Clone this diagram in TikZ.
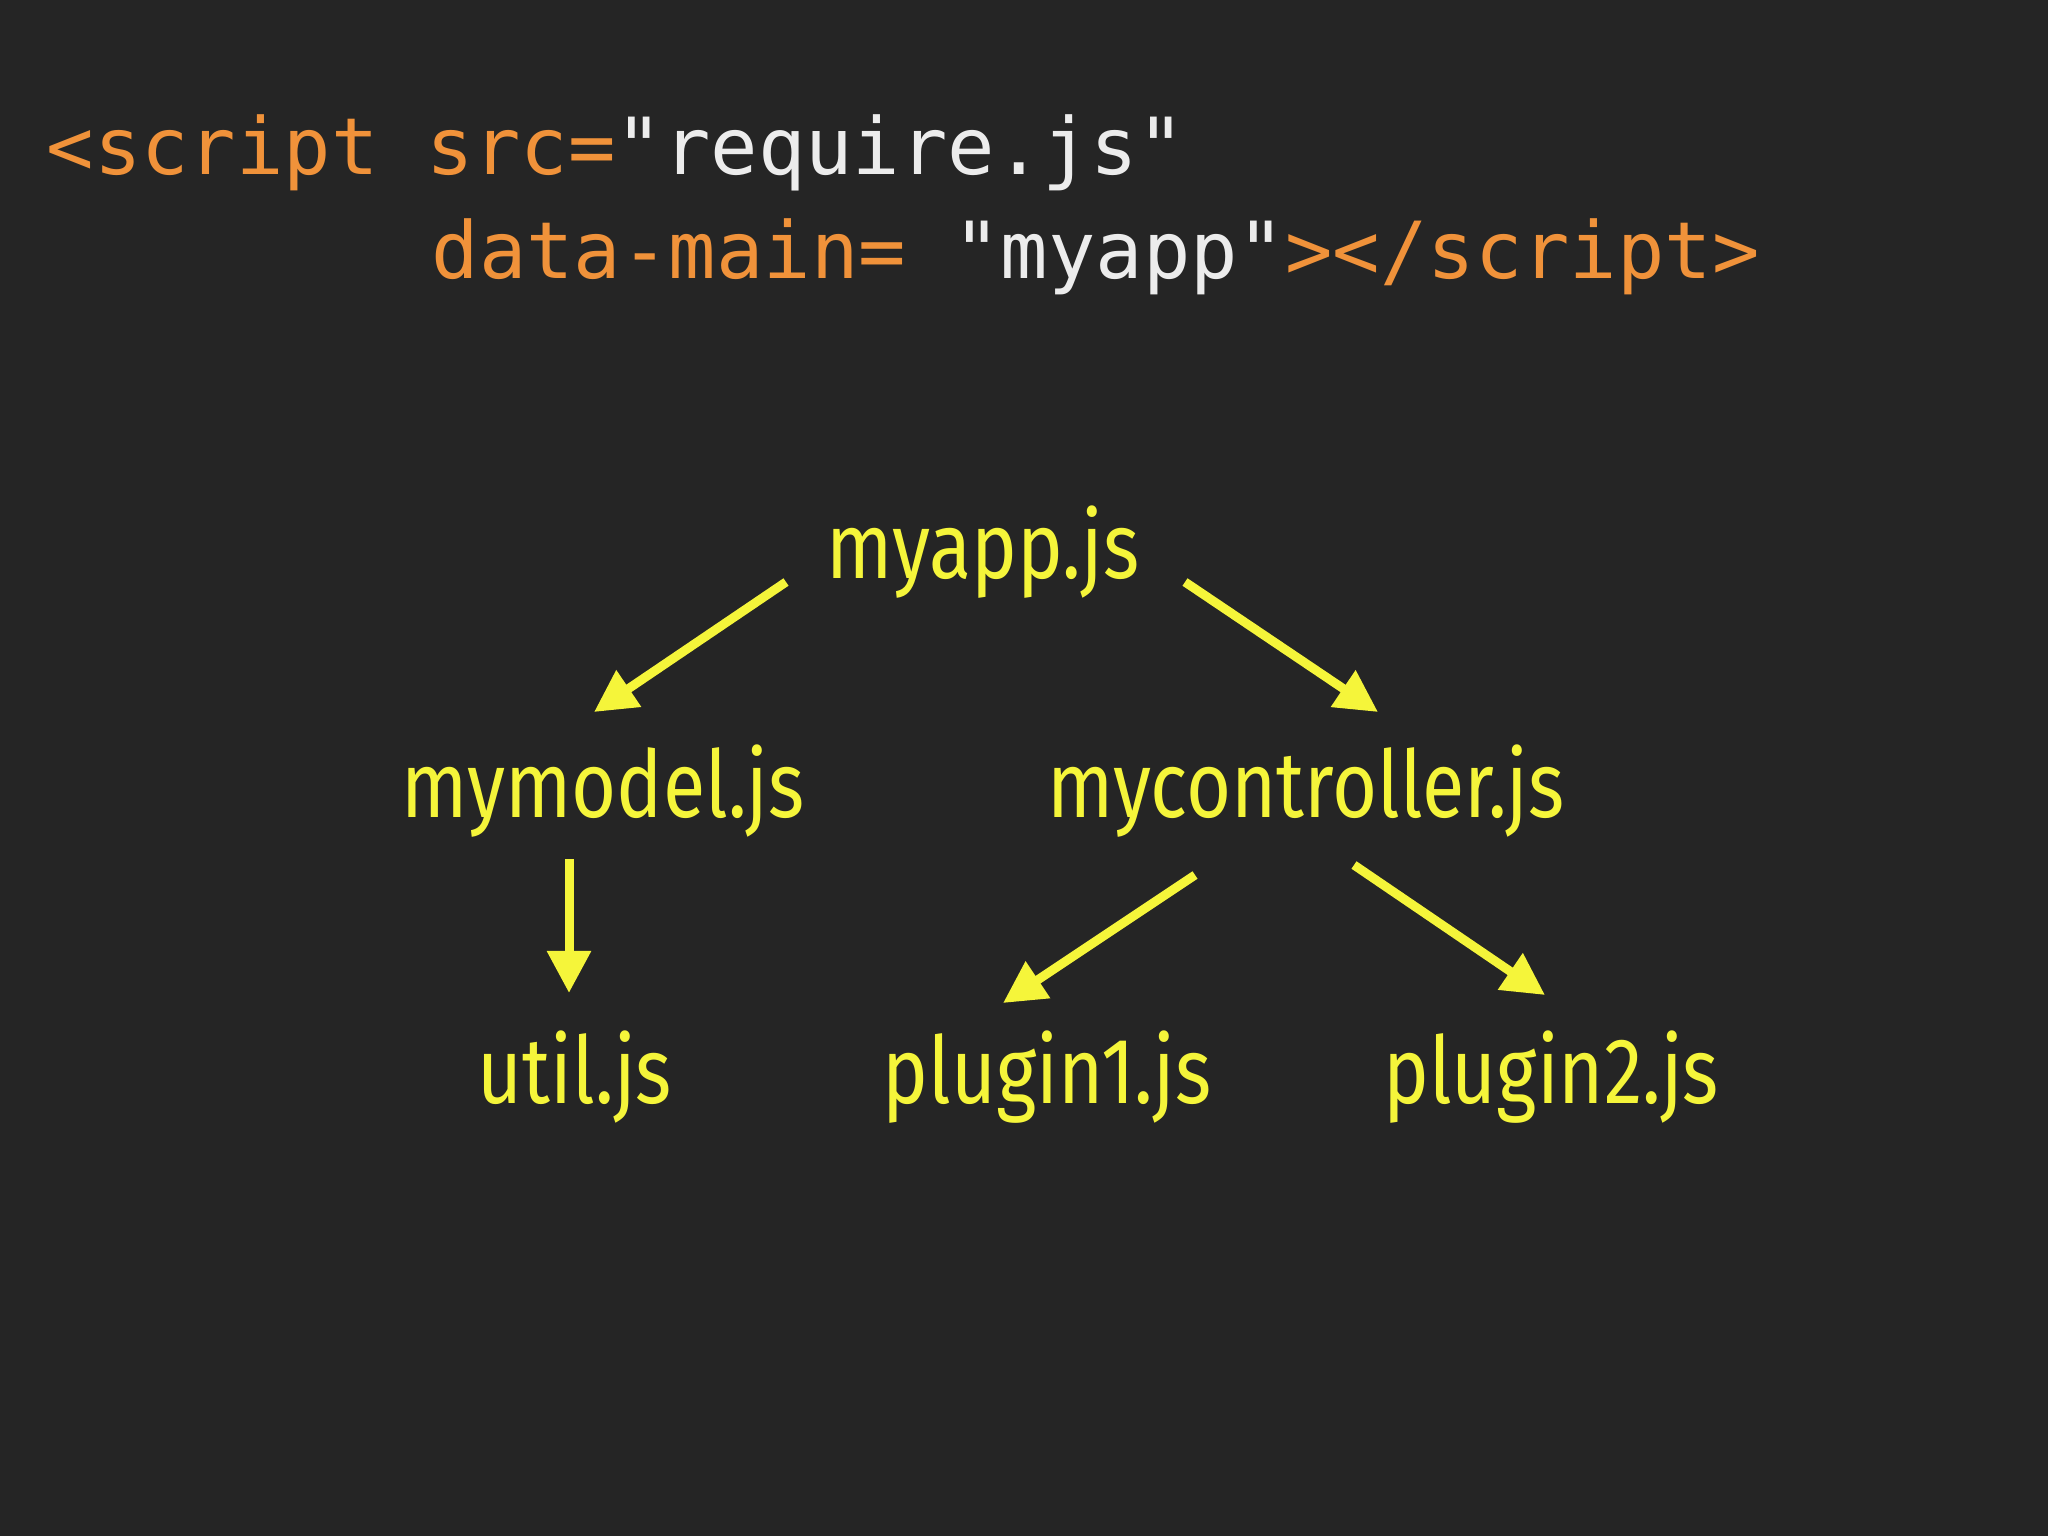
\documentclass[tikz,border=0pt]{standalone}
\usepackage{fontspec}
\setmonofont{DejaVu Sans Mono}
\newfontfamily\lblfont{Fira Sans}
\usetikzlibrary{arrows.meta}
\definecolor{bg}{HTML}{252525}
\definecolor{org}{HTML}{F0923A}
\definecolor{wht}{HTML}{ECECEC}
\definecolor{yel}{HTML}{F5F53A}
\begin{document}
\begin{tikzpicture}[x=0.01cm,y=-0.01cm,
  lbl/.style={text=yel,font=\lblfont\fontsize{26.5}{26.5}\selectfont,inner sep=0pt},
  code/.style={anchor=base west,inner sep=0pt,font=\ttfamily\fontsize{22.4}{23}\selectfont},
  arr/.style={yel,line width=0.09cm,-{Triangle[length=0.42cm,width=0.42cm]}}]
\fill[bg] (0,0) rectangle (2048,1536);
\useasboundingbox (0,0) rectangle (2048,1536);
\node[code] (l1) at (46,174) {\color{org}<script src=\color{wht}"require.js"};
\node[code] (l2) at (431,278) {\color{org}data-main= \color{wht}"myapp"\color{org}></script>};
\newcommand{\nl}[1]{\scalebox{0.83}[1]{#1}}
\node[lbl] (a) at (983,552) {\nl{myapp.js}};
\node[lbl] (b) at (603,791) {\nl{mymodel.js}};
\node[lbl] (c) at (1306,791) {\nl{mycontroller.js}};
\node[lbl] (d) at (575,1077) {\nl{util.js}};
\node[lbl] (e) at (1047,1077) {\nl{plugin1.js}};
\node[lbl] (f) at (1551,1077) {\nl{plugin2.js}};
\coordinate (a1) at (786,582); \coordinate (b1) at (594,712);
\coordinate (a2) at (1185,582); \coordinate (c1) at (1378,712);
\coordinate (b2) at (569,859); \coordinate (d1) at (569,993);
\coordinate (c2) at (1195,875); \coordinate (e1) at (1003,1003);
\coordinate (c3) at (1354,865); \coordinate (f1) at (1545,995);
\draw[arr] (a1) -- (b1);
\draw[arr] (a2) -- (c1);
\draw[arr] (b2) -- (d1);
\draw[arr] (c2) -- (e1);
\draw[arr] (c3) -- (f1);
\end{tikzpicture}
\end{document}
